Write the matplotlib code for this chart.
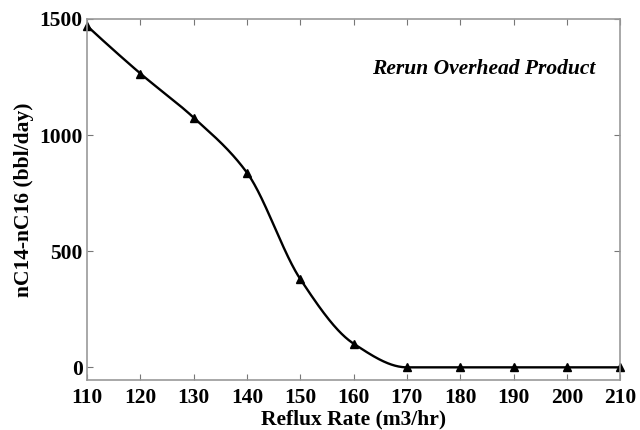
import numpy as np
import matplotlib
matplotlib.use("Agg")
import matplotlib.pyplot as plt

reflux_rate = [110, 120, 130, 140, 150, 160, 170, 180, 190, 200, 210]
nc14_nc16 = [1470, 1265, 1075, 838, 380, 102, 0, 0, 0, 0, 0]
x_ticks = [110, 120, 130, 140, 150, 160, 170, 180, 190, 200, 210]
y_ticks = [0, 500, 1000, 1500]


def pchip(x, y, xs):
    """Shape-preserving piecewise cubic Hermite interpolation."""
    x = np.asarray(x, float)
    y = np.asarray(y, float)
    h = np.diff(x)
    d = np.diff(y) / h
    n = len(x)
    m = np.zeros(n)
    for k in range(1, n - 1):
        if d[k - 1] * d[k] > 0:
            w1 = 2 * h[k] + h[k - 1]
            w2 = h[k] + 2 * h[k - 1]
            m[k] = (w1 + w2) / (w1 / d[k - 1] + w2 / d[k])
    m[0] = ((2 * h[0] + h[1]) * d[0] - h[0] * d[1]) / (h[0] + h[1])
    if np.sign(m[0]) != np.sign(d[0]):
        m[0] = 0
    m[-1] = ((2 * h[-1] + h[-2]) * d[-1] - h[-1] * d[-2]) / (h[-1] + h[-2])
    if np.sign(m[-1]) != np.sign(d[-1]):
        m[-1] = 0
    idx = np.clip(np.searchsorted(x, xs) - 1, 0, n - 2)
    t = (xs - x[idx]) / h[idx]
    h00 = 2 * t**3 - 3 * t**2 + 1
    h10 = t**3 - 2 * t**2 + t
    h01 = -2 * t**3 + 3 * t**2
    h11 = t**3 - t**2
    return (h00 * y[idx] + h10 * h[idx] * m[idx]
            + h01 * y[idx + 1] + h11 * h[idx] * m[idx + 1])


plt.rcParams["font.family"] = "Liberation Serif"
plt.rcParams["font.weight"] = "bold"

fig = plt.figure(figsize=(6.4, 4.3), dpi=100)
ax = fig.add_axes([0.136, 0.116, 0.833, 0.84])

xs = np.linspace(reflux_rate[0], reflux_rate[-1], 600)
ax.plot(xs, pchip(reflux_rate, nc14_nc16, xs), color="black", lw=1.7)
ax.plot(reflux_rate, nc14_nc16, linestyle="none", marker="^",
        color="black", markersize=5.5, clip_on=False)

ax.set_xlim(110, 210)
ax.set_ylim(-55, 1500)
ax.set_xticks(x_ticks)
ax.set_yticks(y_ticks)
ax.tick_params(direction="in", top=True, right=True, length=4,
               width=0.8, color="#777777", labelsize=15.5, pad=6)
ax.tick_params(axis="y", pad=3)
for lab in ax.get_xticklabels() + ax.get_yticklabels():
    lab.set_fontweight("bold")
for sp in ax.spines.values():
    sp.set_color("#999999")
    sp.set_linewidth(1.2)

ax.set_xlabel("Reflux Rate (m3/hr)", fontsize=15.5, fontweight="bold", labelpad=1)
ax.set_ylabel("nC14-nC16 (bbl/day)", fontsize=15.5, fontweight="bold", labelpad=4)
ax.text(0.745, 0.861, "Rerun Overhead Product", transform=ax.transAxes,
        ha="center", va="center", fontsize=15.5, fontweight="bold",
        fontstyle="italic")

fig.savefig("out.png", dpi=100)
